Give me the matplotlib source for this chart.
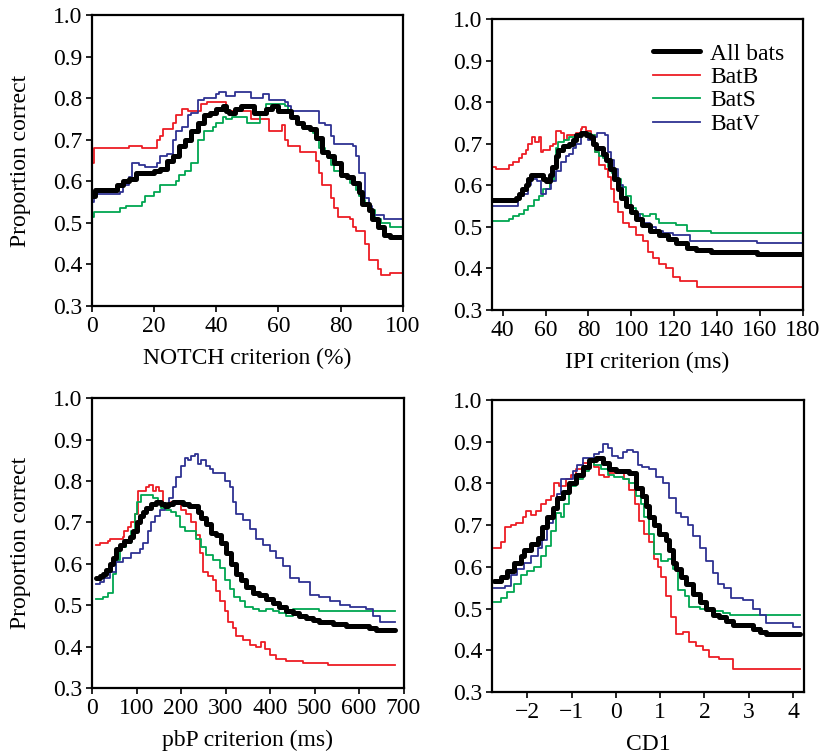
import numpy as np
import matplotlib
matplotlib.use('Agg')
import matplotlib.pyplot as plt

plt.rcParams['font.family'] = ['Liberation Serif', 'DejaVu Serif']
plt.rcParams['font.size'] = 17

colors = {'all': 'black', 'B': '#ed1c24', 'S': '#00a651', 'V': '#2e3192'}

# NOTCH criterion (%)
notch_all_x = [0, 1, 8, 10, 12, 14, 16, 20, 22, 24, 26, 28, 30, 32, 34, 36, 38, 40, 42, 43, 44, 46, 48, 52, 56, 58, 60, 64, 66, 68, 70, 72, 74, 76, 78, 80, 82, 84, 86, 87, 89, 90, 92, 94, 96, 100]
notch_all_y = [0.565, 0.58, 0.59, 0.60, 0.605, 0.62, 0.62, 0.625, 0.63, 0.65, 0.66, 0.685, 0.70, 0.72, 0.74, 0.76, 0.765, 0.775, 0.78, 0.77, 0.765, 0.775, 0.78, 0.765, 0.775, 0.78, 0.77, 0.755, 0.74, 0.73, 0.725, 0.705, 0.67, 0.66, 0.645, 0.615, 0.61, 0.595, 0.575, 0.545, 0.53, 0.51, 0.49, 0.47, 0.465, 0.465]
notch_b_x = [0, 0.5, 12, 16, 21, 22, 23, 26, 27, 29, 31, 35, 37, 43, 51, 57, 61, 62, 63, 64, 67, 72, 73, 74, 77, 78, 79, 83, 84, 85, 88, 89, 92, 93, 96, 100]
notch_b_y = [0.645, 0.68, 0.685, 0.68, 0.70, 0.71, 0.725, 0.74, 0.76, 0.775, 0.77, 0.785, 0.79, 0.77, 0.75, 0.72, 0.735, 0.70, 0.685, 0.685, 0.67, 0.65, 0.62, 0.59, 0.56, 0.535, 0.515, 0.51, 0.49, 0.48, 0.45, 0.41, 0.39, 0.375, 0.38, 0.38]
notch_s_x = [0, 0.5, 9, 11, 16, 17, 20, 22, 27, 28, 30, 32, 34, 36, 39, 40, 42, 43, 45, 50, 54, 56, 62, 63, 64, 66, 68, 71, 72, 73, 75, 76, 77, 78, 80, 83, 85, 86, 87, 88, 89, 91, 93, 96, 100]
notch_s_y = [0.515, 0.525, 0.535, 0.54, 0.55, 0.565, 0.575, 0.59, 0.60, 0.615, 0.625, 0.645, 0.70, 0.72, 0.73, 0.74, 0.755, 0.75, 0.755, 0.74, 0.76, 0.785, 0.78, 0.765, 0.755, 0.74, 0.725, 0.715, 0.70, 0.68, 0.67, 0.655, 0.64, 0.625, 0.61, 0.595, 0.58, 0.565, 0.555, 0.545, 0.53, 0.51, 0.50, 0.49, 0.49]
notch_v_x = [0, 0.5, 9, 10, 12, 13, 15, 17, 21, 22, 24, 26, 27, 29, 31, 32, 34, 36, 40, 41, 43, 46, 51, 55, 57, 62, 63, 64, 73, 75, 77, 78, 84, 85, 86, 88, 89, 90, 94, 100]
notch_v_y = [0.55, 0.57, 0.575, 0.59, 0.61, 0.645, 0.64, 0.635, 0.645, 0.66, 0.665, 0.70, 0.72, 0.73, 0.76, 0.765, 0.795, 0.80, 0.81, 0.815, 0.805, 0.815, 0.80, 0.81, 0.795, 0.79, 0.78, 0.77, 0.74, 0.735, 0.71, 0.69, 0.685, 0.66, 0.62, 0.56, 0.54, 0.52, 0.51, 0.51]

# IPI criterion (ms)
ipi_all_x = [35, 46, 47.6, 49, 51, 52, 53, 58.6, 60, 62, 63, 65, 66, 68, 71, 72.6, 74, 76.5, 79, 80.5, 82, 83.6, 86.7, 88, 90, 92, 94, 95, 97.7, 100, 102, 105, 108.6, 113, 117, 121, 126, 130, 137, 158.6, 180]
ipi_all_y = [0.565, 0.57, 0.58, 0.59, 0.60, 0.615, 0.625, 0.615, 0.61, 0.625, 0.645, 0.67, 0.685, 0.695, 0.70, 0.71, 0.72, 0.725, 0.72, 0.715, 0.70, 0.69, 0.675, 0.66, 0.64, 0.615, 0.59, 0.57, 0.55, 0.535, 0.52, 0.505, 0.49, 0.48, 0.47, 0.46, 0.45, 0.445, 0.44, 0.435, 0.435]
ipi_b_x = [35, 36.7, 43, 45, 47.6, 49, 51, 52, 53.6, 55, 56.7, 57.8, 59, 62, 63.6, 65, 67, 68.8, 70, 74, 76.6, 77, 79, 81, 83, 85, 87.5, 89, 90.6, 92, 94, 96, 99, 102, 105.5, 108, 110, 113, 116, 119.5, 122.6, 130.5, 180]
ipi_b_y = [0.645, 0.64, 0.65, 0.655, 0.665, 0.675, 0.685, 0.70, 0.715, 0.705, 0.715, 0.68, 0.685, 0.695, 0.70, 0.73, 0.725, 0.71, 0.72, 0.725, 0.735, 0.74, 0.73, 0.72, 0.68, 0.65, 0.64, 0.62, 0.59, 0.56, 0.535, 0.51, 0.50, 0.48, 0.465, 0.44, 0.425, 0.41, 0.40, 0.38, 0.37, 0.355, 0.355]
ipi_s_x = [35, 43, 45, 47.6, 50, 52, 54.7, 57, 59, 62, 64, 65, 66, 68.8, 71, 74, 77, 80.5, 83, 85, 86.7, 89, 91, 93, 95, 97.7, 100, 102, 105.5, 108.6, 111.7, 113, 121, 126, 137, 180]
ipi_s_y = [0.515, 0.52, 0.525, 0.53, 0.54, 0.55, 0.565, 0.575, 0.59, 0.61, 0.64, 0.69, 0.705, 0.71, 0.715, 0.72, 0.725, 0.72, 0.68, 0.67, 0.665, 0.645, 0.63, 0.615, 0.595, 0.575, 0.545, 0.53, 0.525, 0.53, 0.52, 0.51, 0.505, 0.49, 0.485, 0.485]
ipi_v_x = [35, 46.9, 50, 51.6, 53, 56, 57.8, 60, 62.5, 65, 67, 69.5, 71, 72.6, 74, 76.6, 78, 79.7, 82, 84, 87.5, 89, 90.6, 92, 94, 96, 98.4, 100.8, 104, 106, 108.6, 111.7, 115, 119.5, 127.5, 158.6, 180]
ipi_v_y = [0.55, 0.575, 0.58, 0.60, 0.615, 0.61, 0.58, 0.59, 0.61, 0.635, 0.655, 0.67, 0.675, 0.69, 0.70, 0.725, 0.72, 0.71, 0.715, 0.725, 0.72, 0.68, 0.66, 0.64, 0.60, 0.57, 0.55, 0.53, 0.515, 0.51, 0.50, 0.49, 0.485, 0.48, 0.465, 0.46, 0.46]

# pbP criterion (ms)
pbp_all_x = [10, 17, 25, 32, 40, 47, 55, 62, 73, 85, 92, 100, 107, 115, 122, 133, 144, 156, 163, 171, 182, 204, 219, 238, 245, 257, 268, 279, 290, 302, 313, 324, 335, 347, 362, 376, 391, 406, 421, 436, 451, 466, 481, 496, 511, 541, 571, 623, 638, 680]
pbp_all_y = [0.565, 0.57, 0.575, 0.585, 0.60, 0.615, 0.635, 0.645, 0.655, 0.665, 0.68, 0.70, 0.715, 0.725, 0.735, 0.745, 0.75, 0.745, 0.74, 0.745, 0.75, 0.745, 0.74, 0.725, 0.71, 0.695, 0.675, 0.67, 0.65, 0.625, 0.60, 0.575, 0.56, 0.545, 0.53, 0.525, 0.515, 0.505, 0.495, 0.485, 0.48, 0.475, 0.47, 0.465, 0.46, 0.455, 0.45, 0.445, 0.44, 0.44]
pbp_b_x = [10, 17, 36, 40, 70, 73, 81, 88, 96, 103, 122, 129, 137, 144, 150, 159, 178, 189, 200, 212, 223, 234, 242, 249, 260, 272, 279, 287, 298, 305, 317, 324, 339, 354, 369, 380, 388, 399, 414, 436, 474, 530, 680]
pbp_b_y = [0.645, 0.65, 0.655, 0.66, 0.665, 0.68, 0.69, 0.70, 0.72, 0.775, 0.785, 0.79, 0.775, 0.785, 0.775, 0.745, 0.75, 0.745, 0.73, 0.72, 0.70, 0.67, 0.625, 0.58, 0.57, 0.56, 0.535, 0.51, 0.485, 0.46, 0.445, 0.425, 0.415, 0.405, 0.40, 0.41, 0.395, 0.38, 0.37, 0.365, 0.36, 0.355, 0.355]
pbp_s_x = [10, 25, 36, 47, 55, 62, 77, 88, 96, 100, 111, 137, 148, 156, 167, 178, 189, 197, 208, 234, 245, 257, 272, 287, 298, 309, 320, 332, 343, 362, 376, 391, 406, 421, 436, 451, 511, 680]
pbp_s_y = [0.515, 0.52, 0.53, 0.575, 0.61, 0.64, 0.65, 0.68, 0.72, 0.75, 0.765, 0.76, 0.745, 0.735, 0.73, 0.725, 0.715, 0.69, 0.68, 0.66, 0.64, 0.62, 0.61, 0.59, 0.56, 0.54, 0.52, 0.51, 0.495, 0.49, 0.485, 0.49, 0.485, 0.48, 0.475, 0.49, 0.485, 0.485]
pbp_v_x = [10, 17, 28, 40, 55, 70, 88, 107, 115, 126, 133, 141, 152, 163, 174, 182, 189, 200, 208, 216, 223, 231, 238, 245, 257, 264, 272, 287, 298, 309, 317, 324, 339, 354, 369, 384, 399, 414, 429, 444, 466, 489, 511, 534, 556, 579, 616, 631, 646, 680]
pbp_v_y = [0.55, 0.555, 0.565, 0.58, 0.605, 0.615, 0.625, 0.635, 0.65, 0.68, 0.70, 0.715, 0.73, 0.74, 0.76, 0.785, 0.81, 0.835, 0.855, 0.85, 0.86, 0.865, 0.84, 0.85, 0.835, 0.83, 0.82, 0.82, 0.80, 0.785, 0.75, 0.72, 0.705, 0.685, 0.66, 0.645, 0.63, 0.615, 0.595, 0.565, 0.555, 0.525, 0.52, 0.51, 0.50, 0.495, 0.49, 0.475, 0.46, 0.46]

# CD1
cd1_all_x = [-2.75, -2.6, -2.45, -2.3, -2.15, -2.08, -1.92, -1.77, -1.66, -1.55, -1.43, -1.32, -1.2, -1.06, -0.9, -0.75, -0.6, -0.45, -0.3, -0.15, 0.0, 0.3, 0.45, 0.6, 0.68, 0.75, 0.87, 0.98, 1.13, 1.2, 1.28, 1.36, 1.47, 1.58, 1.74, 1.89, 2.04, 2.19, 2.34, 2.49, 2.64, 3.1, 3.25, 3.4, 4.15]
cd1_all_y = [0.565, 0.575, 0.59, 0.61, 0.625, 0.64, 0.655, 0.67, 0.695, 0.72, 0.74, 0.765, 0.78, 0.80, 0.82, 0.84, 0.855, 0.86, 0.85, 0.835, 0.83, 0.825, 0.79, 0.77, 0.745, 0.72, 0.70, 0.68, 0.665, 0.64, 0.61, 0.595, 0.575, 0.56, 0.535, 0.515, 0.50, 0.485, 0.48, 0.47, 0.46, 0.45, 0.445, 0.44, 0.44]
cd1_b_x = [-2.75, -2.6, -2.5, -2.38, -2.26, -2.11, -2.04, -1.92, -1.8, -1.7, -1.58, -1.47, -1.4, -1.28, -1.13, -1.02, -0.9, -0.75, -0.6, -0.49, -0.38, -0.26, -0.15, 0.19, 0.3, 0.42, 0.53, 0.64, 0.75, 0.87, 0.94, 1.02, 1.13, 1.25, 1.36, 1.51, 1.66, 1.81, 1.96, 2.11, 2.34, 2.64, 4.15]
cd1_b_y = [0.645, 0.66, 0.695, 0.70, 0.705, 0.72, 0.735, 0.725, 0.735, 0.75, 0.76, 0.77, 0.80, 0.795, 0.81, 0.82, 0.835, 0.85, 0.855, 0.84, 0.82, 0.815, 0.825, 0.81, 0.785, 0.75, 0.71, 0.68, 0.66, 0.62, 0.60, 0.575, 0.53, 0.48, 0.44, 0.445, 0.42, 0.41, 0.40, 0.385, 0.38, 0.355, 0.355]
cd1_s_x = [-2.75, -2.6, -2.45, -2.3, -2.15, -2.0, -1.85, -1.7, -1.58, -1.47, -1.36, -1.25, -1.17, -1.06, -0.9, -0.75, -0.6, -0.49, -0.34, -0.19, -0.04, 0.15, 0.3, 0.45, 0.57, 0.64, 0.75, 0.87, 1.02, 1.17, 1.28, 1.4, 1.55, 1.66, 1.89, 2.11, 2.42, 2.57, 4.15]
cd1_s_y = [0.515, 0.525, 0.54, 0.56, 0.58, 0.59, 0.60, 0.625, 0.65, 0.685, 0.73, 0.72, 0.75, 0.795, 0.81, 0.83, 0.855, 0.845, 0.835, 0.82, 0.815, 0.81, 0.80, 0.77, 0.75, 0.72, 0.68, 0.63, 0.615, 0.62, 0.595, 0.545, 0.53, 0.505, 0.50, 0.495, 0.49, 0.485, 0.485]
cd1_v_x = [-2.75, -2.5, -2.38, -2.23, -2.08, -1.92, -1.77, -1.66, -1.55, -1.43, -1.32, -1.25, -1.13, -0.98, -0.87, -0.75, -0.6, -0.49, -0.38, -0.3, -0.19, -0.08, 0.04, 0.15, 0.26, 0.38, 0.49, 0.6, 0.75, 0.9, 1.06, 1.21, 1.36, 1.47, 1.62, 1.74, 1.89, 2.04, 2.19, 2.3, 2.45, 2.6, 2.87, 3.1, 3.25, 3.4, 4.0, 4.15]
cd1_v_y = [0.55, 0.555, 0.58, 0.595, 0.61, 0.625, 0.645, 0.665, 0.705, 0.74, 0.775, 0.81, 0.81, 0.83, 0.845, 0.86, 0.86, 0.87, 0.875, 0.895, 0.885, 0.865, 0.86, 0.875, 0.88, 0.875, 0.845, 0.84, 0.835, 0.815, 0.80, 0.765, 0.73, 0.72, 0.70, 0.675, 0.645, 0.615, 0.585, 0.56, 0.55, 0.525, 0.52, 0.50, 0.485, 0.465, 0.455, 0.455]

panels = [
    dict(pos=[0.1122, 0.5947, 0.379, 0.3854], xlim=(0, 100), xticks=[0, 20, 40, 60, 80, 100],
         xlabel='NOTCH criterion (%)', ylabel=True,
         series=[(notch_all_x, notch_all_y), (notch_b_x, notch_b_y), (notch_s_x, notch_s_y), (notch_v_x, notch_v_y)]),
    dict(pos=[0.6, 0.5894, 0.379, 0.3854], xlim=(35, 180), xticks=[40, 60, 80, 100, 120, 140, 160, 180],
         xlabel='IPI criterion (ms)', ylabel=False,
         series=[(ipi_all_x, ipi_all_y), (ipi_b_x, ipi_b_y), (ipi_s_x, ipi_s_y), (ipi_v_x, ipi_v_y)]),
    dict(pos=[0.1122, 0.0887, 0.38, 0.384], xlim=(0, 700), xticks=[0, 100, 200, 300, 400, 500, 600, 700],
         xlabel='pbP criterion (ms)', ylabel=True,
         series=[(pbp_all_x, pbp_all_y), (pbp_b_x, pbp_b_y), (pbp_s_x, pbp_s_y), (pbp_v_x, pbp_v_y)]),
    dict(pos=[0.6, 0.0834, 0.3805, 0.3868], xlim=(-2.8, 4.25), xticks=[-2, -1, 0, 1, 2, 3, 4],
         xlabel='CD1', ylabel=False,
         series=[(cd1_all_x, cd1_all_y), (cd1_b_x, cd1_b_y), (cd1_s_x, cd1_s_y), (cd1_v_x, cd1_v_y)]),
]

names = ['All bats', 'BatB', 'BatS', 'BatV']
keys = ['all', 'B', 'S', 'V']

fig = plt.figure(figsize=(8.2, 7.55), dpi=100)

for i, p in enumerate(panels):
    ax = fig.add_axes(p['pos'])
    # coloured bats first, pooled line on top
    for (x, y), key, name in list(zip(p['series'], keys, names))[1:]:
        ax.plot(x, y, drawstyle='steps-post', color=colors[key], lw=1.3, label=name)
    x, y = p['series'][0]
    ax.plot(x, y, drawstyle='steps-post', color='black', lw=3.6, label='All bats',
            solid_capstyle='round', zorder=3)
    ax.set_xlim(*p['xlim'])
    ax.set_ylim(0.3, 1.0)
    ax.set_xticks(p['xticks'])
    ax.set_yticks(np.arange(0.3, 1.01, 0.1))
    ax.set_yticklabels(['%.1f' % v for v in np.arange(0.3, 1.01, 0.1)])
    ax.tick_params(direction='out', length=4, width=1.2, labelsize=17, pad=3)
    for s in ax.spines.values():
        s.set_linewidth(1.6)
    ax.set_xlabel(p['xlabel'], fontsize=17, labelpad=8)
    if p['ylabel']:
        ax.set_ylabel('Proportion correct', fontsize=17, labelpad=16)
    if i == 1:
        h, l = ax.get_legend_handles_labels()
        order = [3, 0, 1, 2]
        ax.legend([h[k] for k in order], [l[k] for k in order], loc='upper right',
                  bbox_to_anchor=(0.972, 0.95), frameon=False, fontsize=17,
                  handlelength=2.0, handletextpad=0.45, labelspacing=0.08, borderaxespad=0)

plt.savefig('out.png', dpi=100)
